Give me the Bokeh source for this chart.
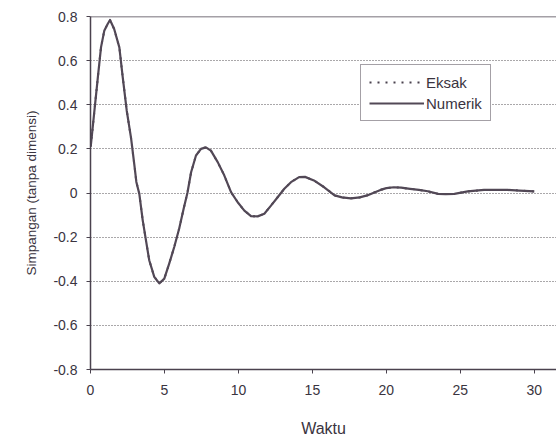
from bokeh.plotting import figure
from bokeh.models import (Range1d, FixedTicker, CustomJSTickFormatter, Span, Legend, LegendItem)
from bokeh.embed import file_html
from bokeh.resources import INLINE

# Data
waktu = [0.0, 0.03, 0.26, 0.49, 0.71, 0.93, 1.16, 1.32, 1.6, 1.95, 2.18, 2.45, 2.74, 2.96,
         3.1, 3.3, 3.53, 3.75, 3.97, 4.31, 4.65, 4.99, 5.32, 5.66, 6.0, 6.3, 6.55,
         6.8, 7.13, 7.47, 7.8, 8.14, 8.6, 9.04, 9.5, 9.95, 10.4, 10.85, 11.3, 11.75,
         12.2, 12.65, 13.1, 13.55, 14.1, 14.5, 15.1, 15.8, 16.5, 17.0, 17.6, 18.2,
         18.7, 19.6, 20.0, 20.5, 21.0, 21.6, 22.2, 22.8, 23.5, 24.0, 24.6, 25.5,
         26.6, 27.4, 28.2, 29.0, 30.0]
eksak = [0.21, 0.22, 0.37, 0.52, 0.66, 0.735, 0.766, 0.784, 0.743, 0.66, 0.524, 0.373, 0.25, 0.13,
         0.05, -0.004, -0.124, -0.215, -0.305, -0.38, -0.41, -0.388, -0.32, -0.245, -0.16, -0.07, 0.0,
         0.094, 0.17, 0.2, 0.207, 0.192, 0.14, 0.08, 0.004, -0.042, -0.08, -0.105, -0.106, -0.094,
         -0.057, -0.019, 0.019, 0.049, 0.072, 0.073, 0.057, 0.026, -0.011, -0.02, -0.024, -0.02,
         -0.011, 0.014, 0.022, 0.026, 0.024, 0.019, 0.014, 0.008, -0.004, -0.005, -0.004, 0.007,
         0.014, 0.014, 0.014, 0.011, 0.007]
numerik = list(eksak)
x_ticks = [0, 5, 10, 15, 20, 25, 30]
y_ticks = [-0.8, -0.6, -0.4, -0.2, 0, 0.2, 0.4, 0.6, 0.8]

INK = "#4a424e"
TXT = "#3a3440"
FONT = "Liberation Sans"

p = figure(width=556, height=446, output_backend="svg", toolbar_location=None,
           x_range=Range1d(0, 31.5), y_range=Range1d(-0.8, 0.8),
           min_border_left=90, min_border_right=0, min_border_top=16, min_border_bottom=77)
p.outline_line_color = None
p.background_fill_color = "white"
p.border_fill_color = "white"

p.xgrid.visible = False
p.ygrid.ticker = FixedTicker(ticks=[-0.6, -0.4, -0.2, 0, 0.2, 0.4, 0.6])
p.ygrid.grid_line_color = "#555055"
p.ygrid.grid_line_dash = "1 2"
p.ygrid.grid_line_width = 1

top = Span(location=0.8, dimension="width", line_color=INK, line_width=1.5)
p.add_layout(top)

for ax in (p.xaxis[0], p.yaxis[0]):
    ax.axis_line_color = INK
    ax.axis_line_width = 1.5
    ax.major_tick_line_color = INK
    ax.major_tick_out = 4
    ax.major_tick_in = 0
    ax.minor_tick_line_color = None
    ax.major_label_text_font = FONT
    ax.major_label_text_font_size = "14px"
    ax.major_label_text_color = TXT
    ax.axis_label_text_font = FONT
    ax.axis_label_text_font_style = "normal"
    ax.axis_label_text_color = TXT

p.xaxis.ticker = FixedTicker(ticks=x_ticks)
p.yaxis.ticker = FixedTicker(ticks=y_ticks)
p.yaxis.formatter = CustomJSTickFormatter(code="""
    if (Math.abs(tick) < 1e-9) return '0';
    return tick.toFixed(1);
""")
p.xaxis.axis_label = "Waktu"
p.yaxis.axis_label = "Simpangan (tanpa dimensi)"
p.xaxis.axis_label_text_font_size = "16px"
p.yaxis.axis_label_text_font_size = "13.5px"
p.xaxis.major_label_standoff = 11
p.xaxis.axis_label_standoff = 22
p.yaxis.major_label_standoff = 9
p.yaxis.axis_label_standoff = 11

r_eksak = p.line(waktu, eksak, line_color=INK, line_width=2, line_dash="2 6")
r_num = p.line(waktu, numerik, line_color="#524856", line_width=2.2, line_join="round")

legend = Legend(items=[LegendItem(label="Eksak", renderers=[r_eksak]),
                       LegendItem(label="Numerik", renderers=[r_num])],
                location=(270, 248), orientation="vertical")
legend.border_line_color = INK
legend.border_line_width = 1.2
legend.background_fill_color = "white"
legend.background_fill_alpha = 1
legend.label_text_font = FONT
legend.label_text_font_size = "15px"
legend.label_text_color = TXT
legend.glyph_width = 55
legend.glyph_height = 18
legend.label_standoff = 2
legend.label_height = 18
legend.padding = 8
legend.spacing = 3
legend.margin = 0
p.add_layout(legend)

open("out.html", "w").write(file_html(p, INLINE))
